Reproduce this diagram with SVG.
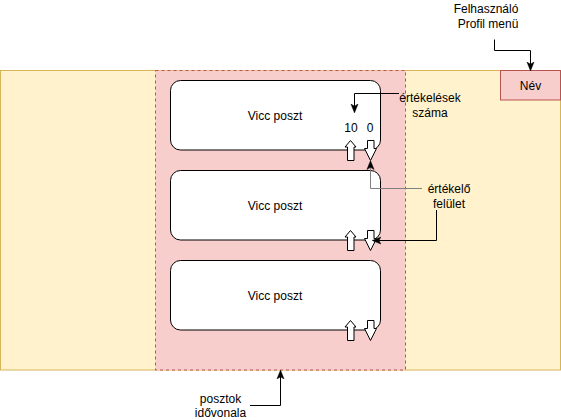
<svg xmlns="http://www.w3.org/2000/svg" width="561" height="420" viewBox="0 0 561 420">
<style>
text{font-family:"Liberation Sans",Arial,Helvetica,sans-serif;font-size:12px;fill:#000;text-anchor:middle}
.post{fill:#fff;stroke:#000;stroke-width:1}
.blk{fill:#fff;stroke:#000;stroke-width:1;stroke-linejoin:miter}
.edge{fill:none;stroke:#000;stroke-width:1}
.gray{stroke:#808080}
</style>
<defs>
<marker id="arr" viewBox="0 0 10 10" refX="9" refY="5" markerWidth="9" markerHeight="9" markerUnits="userSpaceOnUse" orient="auto">
<path d="M0,1 L10,5 L0,9 L2.5,5 Z" fill="#000" stroke="#000" stroke-width="0.5"/>
</marker>
</defs>
<g id="frame">
<rect x="0.5" y="70.5" width="560" height="299.5" fill="#fff2cc" stroke="#d6b656"/>
</g>
<g id="timeline">
<rect x="155.5" y="70.5" width="250" height="299.5" fill="#f8cecc" stroke="#b85450" stroke-dasharray="3 3"/>
</g>
<g id="nev">
<rect x="500.5" y="70.5" width="60" height="29.5" fill="#f8cecc" stroke="#b85450"/>
<text x="530.5" y="89.5">Név</text>
</g>
<g id="post1">
<rect class="post" x="170.5" y="80.5" width="210" height="69.5" rx="10"/>
<text x="275" y="119.5">Vicc poszt</text>
<text x="351" y="131.5">10</text>
<text x="370" y="131.5">0</text>
<path class="blk" d="M350.5,140.5 L356,147 L354,147 L354,160.5 L347.5,160.5 L347.5,147 L345,147 Z"/>
<path class="blk" d="M367.5,140.5 L374,140.5 L374,148.5 L376.5,148.5 L370.5,160.5 L364.5,148.5 L367.5,148.5 Z"/>
</g>
<g id="post2">
<rect class="post" x="170.5" y="170.5" width="210" height="69.5" rx="10"/>
<text x="275" y="209.5">Vicc poszt</text>
<path class="blk" d="M350.5,230.5 L356,237 L354,237 L354,250.5 L347.5,250.5 L347.5,237 L345,237 Z"/>
<path class="blk" d="M367.5,230.5 L374,230.5 L374,238.5 L376.5,238.5 L370.5,250.5 L364.5,238.5 L367.5,238.5 Z"/>
</g>
<g id="post3">
<rect class="post" x="170.5" y="260.5" width="210" height="69.5" rx="10"/>
<text x="275" y="299.5">Vicc poszt</text>
<path class="blk" d="M350.5,320.5 L356,327 L354,327 L354,340.5 L347.5,340.5 L347.5,327 L345,327 Z"/>
<path class="blk" d="M367.5,320.5 L374,320.5 L374,328.5 L376.5,328.5 L370.5,340.5 L364.5,328.5 L367.5,328.5 Z"/>
</g>
<g id="label-ertekelesek">
<text x="430" y="102">értékelések</text>
<text x="430" y="117">száma</text>
</g>
<g id="label-ertekelo">
<text x="449" y="193">értékelő</text>
<text x="449" y="207.5">felület</text>
</g>
<g id="label-profil">
<text x="486" y="12.5">Felhasználó</text>
<text x="488" y="27.5">Profil menü</text>
</g>
<g id="label-posztok">
<text x="220.5" y="402.5">posztok</text>
<text x="220.5" y="416.5">idővonala</text>
</g>
<g id="connectors">
<path class="edge" d="M399,93.5 H354.5 V112" marker-end="url(#arr)"/>
<path class="edge gray" d="M422,188.5 H370.5 V161.5" marker-end="url(#arr)"/>
<path class="edge" d="M436.5,210 V240.5 H373" marker-end="url(#arr)"/>
<path class="edge" d="M494.5,39.5 V50.5 H530.5 V70" marker-end="url(#arr)"/>
<path class="edge" d="M250,405.5 H280.5 V371" marker-end="url(#arr)"/>
</g>
</svg>
